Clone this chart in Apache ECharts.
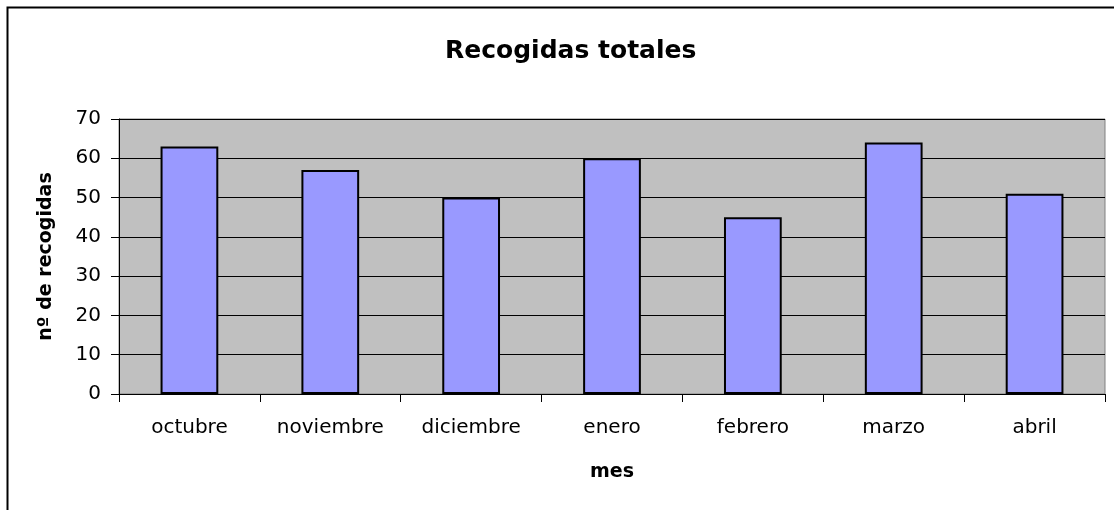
<!DOCTYPE html>
<html>
<head>
<meta charset="utf-8">
<script src="https://cdn.jsdelivr.net/npm/echarts@6/dist/echarts.min.js"></script>
<style>
  html, body { margin: 0; padding: 0; background: #fff; }
  #chart { width: 1114px; height: 510px; }
</style>
</head>
<body>
<div id="chart"></div>
<script>
// datos del gráfico
var meses = ['octubre', 'noviembre', 'diciembre', 'enero', 'febrero', 'marzo', 'abril']
var recogidas = [63, 57, 50, 60, 45, 64, 51]
var yMin = 0, yMax = 70, yStep = 10

var chart = echarts.init(document.getElementById('chart'))
var font = 'DejaVu Sans'

var option = {
    backgroundColor: '#fff',
    animation: false,
    // marco exterior del gráfico
    graphic: [{
        type: 'rect',
        shape: { x: 7.5, y: 7.5, width: 1300, height: 700 },
        style: { fill: 'none', stroke: '#000', lineWidth: 2 },
        silent: true
    }],
    title: {
        text: 'Recogidas totales',
        left: 440,
        top: 34,
        textStyle: { fontFamily: font, fontWeight: 'bold', fontSize: 25, color: '#000' }
    },
    grid: {
        left: 119, top: 119, right: 9, bottom: 116,
        show: true,
        backgroundColor: '#c0c0c0',
        borderColor: '#808080',
        borderWidth: 1
    },
    xAxis: {
        type: 'category',
        data: meses,
        name: 'mes',
        nameLocation: 'middle',
        nameGap: 69,
        nameTextStyle: { fontFamily: font, fontWeight: 'bold', fontSize: 19, color: '#000' },
        axisLine: { lineStyle: { color: '#000', width: 1 } },
        axisTick: { show: true, length: 8, lineStyle: { color: '#000' } },
        axisLabel: { fontFamily: font, fontSize: 20, color: '#000', margin: 24 }
    },
    yAxis: {
        type: 'value',
        min: yMin,
        max: yMax,
        interval: yStep,
        name: 'nº de recogidas',
        nameLocation: 'middle',
        nameRotate: 90,
        nameGap: 63,
        nameTextStyle: { fontFamily: font, fontWeight: 'bold', fontSize: 19, color: '#000' },
        axisLine: { show: true, lineStyle: { color: '#000', width: 1 } },
        axisTick: { show: true, length: 8, lineStyle: { color: '#000' } },
        axisLabel: { fontFamily: font, fontSize: 20, color: '#000', margin: 18 },
        splitLine: { show: true, lineStyle: { color: '#000', width: 1 } }
    },
    series: [{
        type: 'bar',
        data: recogidas,
        barWidth: '41%',
        itemStyle: { color: '#9999ff', borderColor: '#000', borderWidth: 2 }
    }]
}
chart.setOption(option)
</script>
</body>
</html>
